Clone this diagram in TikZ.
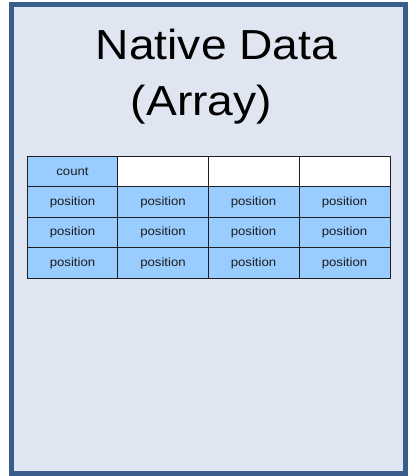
\documentclass[tikz,border=0pt]{standalone}
\usepackage{fontspec}
\setmainfont{Liberation Sans}
\definecolor{framebg}{RGB}{223,230,242}
\definecolor{frameline}{RGB}{58,94,140}
\definecolor{cellblue}{RGB}{153,204,255}
\definecolor{gridline}{RGB}{30,30,30}
\definecolor{celltext}{RGB}{30,30,30}
\tikzset{
  cellbox/.style={draw=gridline, line width=0.8pt, fill=cellblue, inner sep=0pt,
    minimum width=91pt, minimum height=30.5pt, text=celltext,
    font=\fontsize{12}{14}\selectfont},
  blankbox/.style={cellbox, fill=white},
  titletext/.style={inner sep=0pt, anchor=base, font=\fontsize{42}{50}\selectfont}
}
\begin{document}
\begin{tikzpicture}[x=1pt,y=-1pt]
\useasboundingbox (0,0) rectangle (408,476);
% outer panel
\draw[frameline, line width=5pt, fill=framebg] (11.5,4.5) rectangle (405.5,473.5);
% title
\node[titletext] (title1) at (216.5,60) {\scalebox{1.1}[1]{Native Data}};
\node[titletext] (title2) at (201.5,115) {\scalebox{1.1}[1]{(Array)}};
% table: first row
\node[cellbox] (c00) at (72.5,171.5) {\scalebox{1.1}[1]{count}};
\node[blankbox] (c01) at (163,171.5) {};
\node[blankbox] (c02) at (253.5,171.5) {};
\node[blankbox] (c03) at (344.5,171.5) {};
% table: position rows
\foreach \r/\y in {1/202, 2/232.5, 3/263} {
  \foreach \c/\x in {0/72.5, 1/163, 2/253.5, 3/344.5} {
    \node[cellbox] (c\r\c) at (\x,\y) {\scalebox{1.1}[1]{position}};
  }
}
\end{tikzpicture}
\end{document}
